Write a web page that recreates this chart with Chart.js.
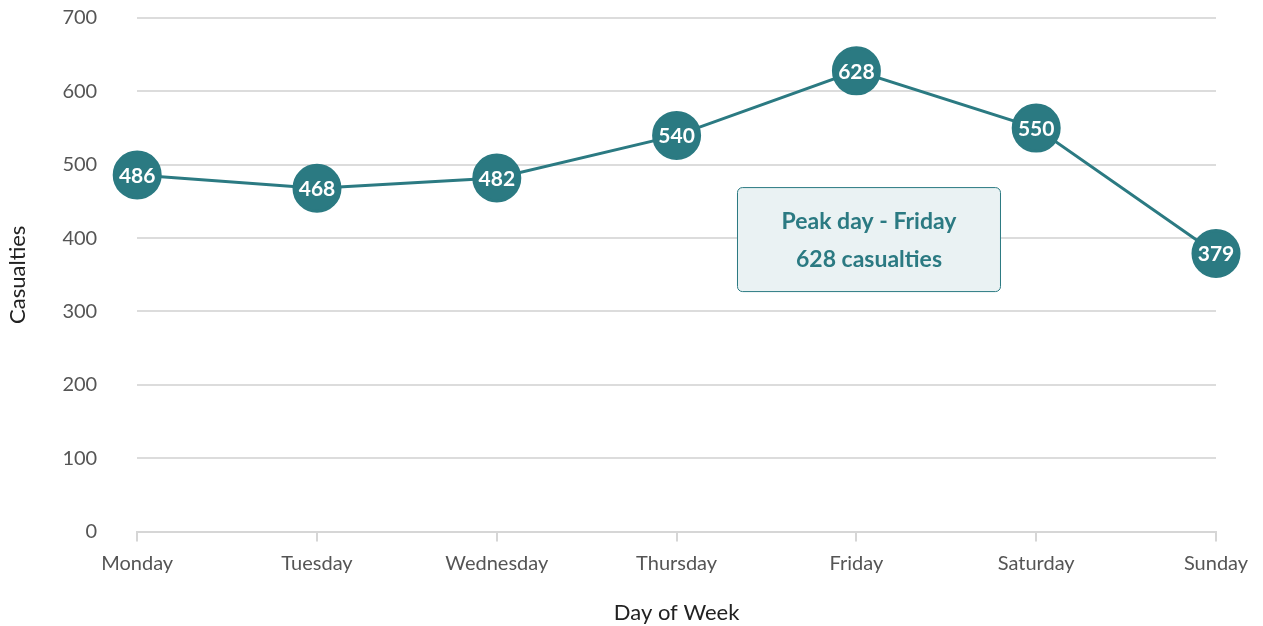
<!DOCTYPE html>
<html>
<head>
<meta charset="utf-8">
<script src="https://cdn.jsdelivr.net/npm/chart.js@4/dist/chart.umd.min.js"></script>
<style>
  html, body { margin: 0; padding: 0; background: #fff; }
  .chart-container { position: relative; width: 1263px; height: 626px; }
</style>
</head>
<body>
<div class="chart-container"><canvas id="myChart"></canvas></div>
<script>
const days = ['Monday', 'Tuesday', 'Wednesday', 'Thursday', 'Friday', 'Saturday', 'Sunday'];
const casualties = [486, 468, 482, 540, 628, 550, 379];
const yTicks = [0, 100, 200, 300, 400, 500, 600, 700];
const noteLines = ['Peak day - Friday', '628 casualties'];

const teal = '#2b7a82';
const fontName = 'Lato, "Open Sans", sans-serif';

// white numbers inside the markers
const pointLabels = {
  id: 'pointLabels',
  afterDatasetsDraw(chart) {
    const ctx = chart.ctx;
    const meta = chart.getDatasetMeta(0);
    ctx.save();
    ctx.fillStyle = '#fff';
    ctx.font = 'bold 21px ' + fontName;
    ctx.textAlign = 'center';
    ctx.textBaseline = 'middle';
    meta.data.forEach((pt, i) => {
      ctx.fillText(String(casualties[i]), pt.x, pt.y + 1);
    });
    ctx.restore();
  }
};

// the peak note box
const peakNote = {
  id: 'peakNote',
  afterDatasetsDraw(chart) {
    const ctx = chart.ctx;
    const xs = chart.scales.x, ys = chart.scales.y;
    const cx = xs.getPixelForValue(4.07);
    const cy = ys.getPixelForValue(398);
    const w = 263, h = 104;
    const x0 = cx - w / 2, y0 = cy - h / 2;
    ctx.save();
    ctx.beginPath();
    ctx.roundRect(x0, y0, w, h, 5);
    ctx.fillStyle = '#eaf2f3';
    ctx.fill();
    ctx.lineWidth = 1;
    ctx.strokeStyle = teal;
    ctx.stroke();
    ctx.fillStyle = teal;
    ctx.font = 'bold 23px ' + fontName;
    ctx.textAlign = 'center';
    ctx.textBaseline = 'middle';
    ctx.fillText(noteLines[0], cx, cy - 18);
    ctx.fillText(noteLines[1], cx, cy + 20);
    ctx.restore();
  }
};

const ctx = document.getElementById('myChart');
new Chart(ctx, {
  type: 'line',
  data: {
    labels: days,
    datasets: [{
      label: 'Casualties',
      data: casualties,
      borderColor: teal,
      backgroundColor: teal,
      borderWidth: 3,
      pointRadius: 23,
      pointHoverRadius: 23,
      pointBackgroundColor: teal,
      pointBorderColor: teal,
      tension: 0,
      clip: false
    }]
  },
  options: {
    responsive: true,
    maintainAspectRatio: false,
    animation: false,
    layout: { autoPadding: false, padding: { top: 1, right: 47, left: 1, bottom: 0 } },
    plugins: {
      legend: { display: false },
      tooltip: { enabled: false }
    },
    scales: {
      x: {
        offset: false,
        grid: { drawOnChartArea: false, color: '#d6d6d6', tickLength: 10, lineWidth: 2 },
        border: { color: '#d6d6d6', width: 2 },
        ticks: { color: '#555', font: { family: fontName, size: 20 }, padding: 10 },
        title: { display: true, text: 'Day of Week', color: '#222', font: { family: fontName, size: 22 }, padding: { top: 14, bottom: 0 } }
      },
      y: {
        min: 0,
        max: 700,
        afterBuildTicks(axis) { axis.ticks = yTicks.map(v => ({ value: v })); },
        grid: { color: '#dcdcdc', lineWidth: 2, drawTicks: true, tickLength: 34, tickColor: 'rgba(0,0,0,0)' },
        border: { display: false },
        ticks: { color: '#555', font: { family: fontName, size: 20 }, padding: 6 },
        title: { display: true, text: 'Casualties', color: '#222', font: { family: fontName, size: 22 }, padding: { top: 4, bottom: 25 } }
      }
    }
  },
  plugins: [pointLabels, peakNote]
});
</script>
</body>
</html>
